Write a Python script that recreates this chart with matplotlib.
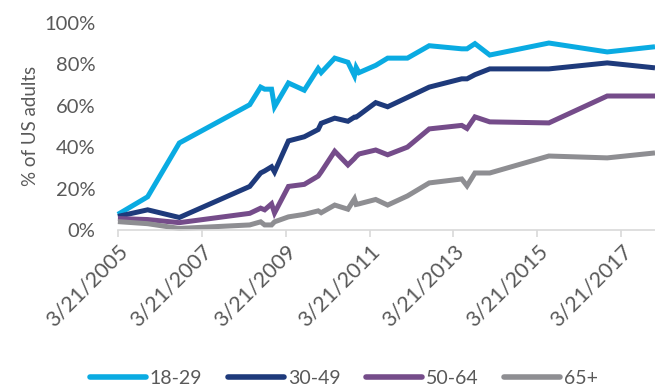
import numpy as np
import pandas as pd
import matplotlib
matplotlib.use("Agg")
import matplotlib.pyplot as plt
import matplotlib.dates as mdates
from matplotlib.ticker import PercentFormatter

plt.rcParams['font.family'] = ['Lato', 'DejaVu Sans']

# survey dates
dates = pd.to_datetime([
    '2005-03-21', '2005-12-05', '2006-09-07', '2008-05-12', '2008-08-15',
    '2008-09-19', '2008-11-18', '2008-12-14', '2009-04-14', '2009-08-30',
    '2009-12-29', '2010-01-24', '2010-05-22', '2010-09-14', '2010-11-10',
    '2010-11-25', '2010-12-20', '2011-05-14', '2011-08-26', '2012-02-14',
    '2012-08-22', '2013-06-01', '2013-07-17', '2013-09-24', '2014-01-31',
    '2015-06-30', '2016-11-19', '2018-01-09',
])

# share of US adults using social media, by age group (%)
age_18_29 = [7.5, 16, 42, 60.5, 69, 68, 68, 59.5, 71, 67.5,
             78, 76, 83, 81, 74.5, 78.5, 76, 79.5, 83, 83,
             89, 87.5, 87.5, 90, 84.5, 90.3, 86, 88.5]
age_30_49 = [6.5, 9.7, 6, 21, 27.5, 28.5, 30.5, 28, 43, 45,
             48.5, 51.5, 54, 52.5, 54.5, 54.5, 55.5, 61.5, 59.5, 64,
             69, 73, 73, 75, 77.8, 77.8, 80.7, 78.3]
age_50_64 = [5.5, 5, 3.5, 8, 10.5, 9.7, 12.6, 8.2, 21, 22,
             26, 28, 38, 31.4, 34.5, 35.5, 36.7, 38.6, 36.3, 40,
             48.8, 50.5, 49, 54.6, 52.2, 51.7, 64.7, 64.7]
age_65_up = [4, 3, 0.7, 2.4, 3.9, 2.4, 2.4, 3.9, 6.3, 7.5,
             9.2, 8.3, 12, 10, 15, 12.3, 12.6, 14.7, 12, 16.4,
             22.7, 24.6, 21.3, 27.5, 27.5, 35.7, 34.8, 37.2]

labels = ['18-29', '30-49', '50-64', '65+']
colors = ['#0AABE2', '#1E3A7B', '#754C8A', '#8E8E92']
tick_dates = pd.to_datetime(['2005-03-21', '2007-03-21', '2009-03-21', '2011-03-21',
                             '2013-03-21', '2015-03-21', '2017-03-21'])


def date_label(v, pos):
    d = mdates.num2date(v)
    return '{}/{}/{}'.format(d.month, d.day, d.year)


fig = plt.figure(figsize=(6.55, 3.89), dpi=100)
ax = fig.add_axes([0.18, 0.409, 0.82, 0.532])

for vals, lab, c in zip([age_18_29, age_30_49, age_50_64, age_65_up], labels, colors):
    ax.plot(dates, vals, color=c, lw=3.6, label=lab, solid_joinstyle='miter',
            solid_capstyle='butt', clip_on=False)

ax.set_ylim(0, 100)
ax.set_yticks(np.arange(0, 101, 20))
ax.yaxis.set_major_formatter(PercentFormatter(decimals=0))
ax.set_xlim(dates[0], dates[-1])
ax.set_xticks(tick_dates)
ax.xaxis.set_major_formatter(plt.FuncFormatter(date_label))

for s in ['top', 'right', 'left']:
    ax.spines[s].set_visible(False)
ax.spines['bottom'].set_color('#D9D9D9')
ax.spines['bottom'].set_linewidth(1.2)
ax.tick_params(axis='y', length=0, pad=16, labelsize=14.5, labelcolor='#595959')
ax.tick_params(axis='x', direction='out', length=5, width=1.2, color='#D9D9D9',
               labelsize=15.5, labelcolor='#595959', pad=3)
for t in ax.get_xticklabels():
    t.set_rotation(45)
    t.set_ha('right')
    t.set_va('top')
    t.set_rotation_mode('anchor')

ax.set_ylabel('% of US adults', fontsize=13.5, color='#595959', labelpad=4)

leg = fig.legend(loc='center', bbox_to_anchor=(0.525, 0.028), ncol=4, frameon=False,
                 fontsize=14, handlelength=2.9, handletextpad=0.2, columnspacing=1.3,
                 labelcolor='#595959')
for h in leg.get_lines():
    h.set_solid_capstyle('round')
    h.set_linewidth(4)

fig.savefig('out.png', dpi=100)
